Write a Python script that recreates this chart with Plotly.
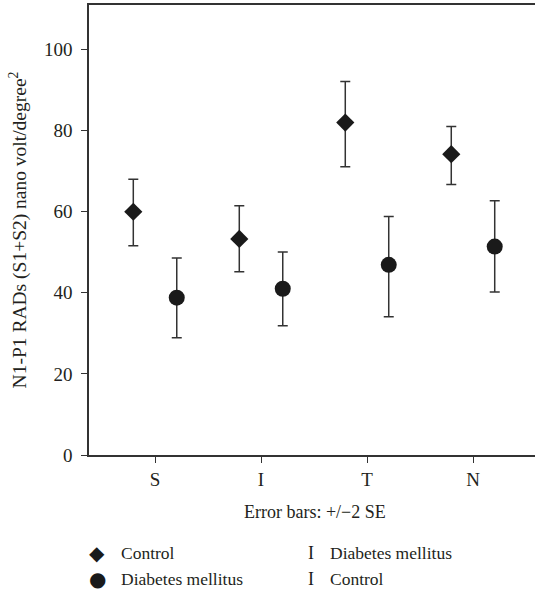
import plotly.graph_objects as go

categories = ["S", "I", "T", "N"]
control_mean = [60.0, 53.3, 82.0, 74.2]
control_upper = [68.0, 61.5, 92.1, 81.0]
control_lower = [51.6, 45.2, 71.1, 66.7]
dm_mean = [38.8, 41.0, 46.9, 51.4]
dm_upper = [48.6, 50.1, 58.8, 62.7]
dm_lower = [28.9, 31.9, 34.1, 40.2]
y_ticks = [0, 20, 40, 60, 80, 100]

FONT = "Liberation Serif"
ink = "#1a1a1a"
bar_col = "#333333"
off = 0.205

L, T, B = 89, 5, 455
W, H = 542, 593
PW, PH = W - L, B - T

idx = list(range(len(categories)))
fig = go.Figure()
fig.add_trace(go.Scatter(
    x=[i - off for i in idx], y=control_mean, mode="markers",
    marker=dict(symbol="diamond", size=14, color=ink),
    error_y=dict(type="data", symmetric=False,
                 array=[u - m for u, m in zip(control_upper, control_mean)],
                 arrayminus=[m - l for m, l in zip(control_mean, control_lower)],
                 color=bar_col, thickness=1.5, width=5),
    showlegend=False))
fig.add_trace(go.Scatter(
    x=[i + off for i in idx], y=dm_mean, mode="markers",
    marker=dict(symbol="circle", size=16, color=ink),
    error_y=dict(type="data", symmetric=False,
                 array=[u - m for u, m in zip(dm_upper, dm_mean)],
                 arrayminus=[m - l for m, l in zip(dm_mean, dm_lower)],
                 color=bar_col, thickness=1.5, width=5),
    showlegend=False))

x_right = 3.585 + (W - 535) * (4.208 / 446)

fig.update_layout(
    width=W, height=H,
    margin=dict(l=L, r=0, t=T, b=H - B),
    plot_bgcolor="white", paper_bgcolor="white",
    font=dict(family=FONT, color="#231f20", size=18),
    xaxis=dict(range=[-0.623, x_right], tickvals=idx, ticktext=categories,
               showline=True, linecolor="#333333", linewidth=1.5, mirror=True,
               ticks="outside", ticklen=6, tickcolor="#333333", showgrid=False,
               zeroline=False, tickfont=dict(size=19)),
    yaxis=dict(range=[0, 111], tickvals=y_ticks,
               showline=True, linecolor="#333333", linewidth=1.5,
               ticks="outside", ticklen=6, tickcolor="#333333", showgrid=False,
               zeroline=False, tickfont=dict(size=19), ticklabelstandoff=5,
               title=dict(text="N1-P1 RADs (S1+S2) nano volt/degree<sup>2</sup>",
                          font=dict(size=19.5), standoff=12)),
)


def px(xp):
    return (xp - L) / PW


def py(yp):
    return (B - yp) / PH


fig.add_annotation(x=px(315), y=py(512), xref="paper", yref="paper",
                   text="Error bars: +/\u22122 SE", showarrow=False,
                   font=dict(size=18, family=FONT), xanchor="center", yanchor="middle")

legend_items = [
    ("\u25C6", "Control", 97, 553, "DejaVu Sans", 119),
    ("\u25CF", "Diabetes mellitus", 97, 579, "DejaVu Sans", 119),
    ("I", "Diabetes mellitus", 311, 553, FONT, 328),
    ("I", "Control", 311, 579, FONT, 328),
]
for sym, label, sx, sy, sf, tx in legend_items:
    fig.add_annotation(x=px(sx), y=py(sy), xref="paper", yref="paper",
                       text=sym, showarrow=False,
                       font=dict(size=20 if sf != FONT else 18, family=sf, color=ink),
                       xanchor="center", yanchor="middle")
    fig.add_annotation(x=px(tx), y=py(sy), xref="paper", yref="paper",
                       text=label, showarrow=False, font=dict(size=17.5, family=FONT),
                       xanchor="left", yanchor="middle")

fig.write_html("out.html", config={"displayModeBar": False},
               post_script="document.body.style.margin='0';document.body.style.overflow='hidden';")
